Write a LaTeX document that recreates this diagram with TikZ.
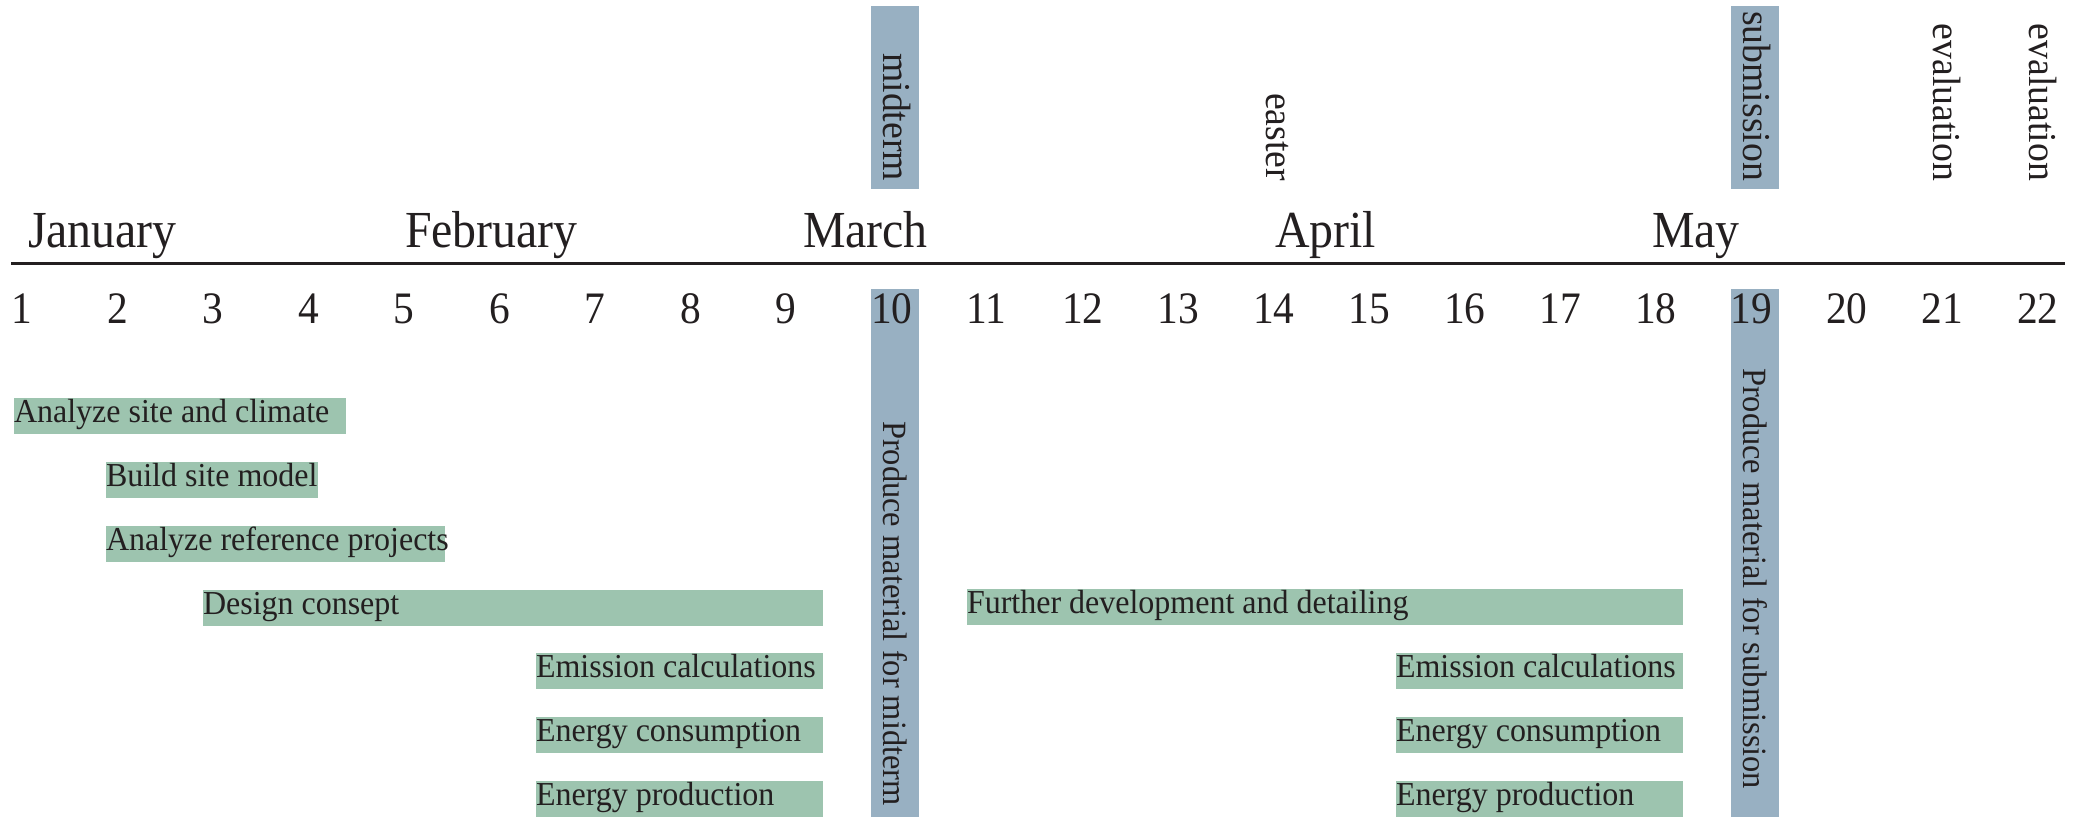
\documentclass[tikz,border=0pt]{standalone}
\usepackage{fontspec}
\setmainfont[FakeStretch=0.92]{Liberation Serif}
\newfontfamily\labelfont[FakeStretch=0.955]{Liberation Serif}
\definecolor{barGreen}{HTML}{9DC4AF}
\definecolor{hiBlue}{HTML}{98B0C2}
\definecolor{ink}{HTML}{231F20}
\begin{document}
\begin{tikzpicture}[x=1pt,y=-1pt,
  every node/.style={inner sep=0pt, outer sep=0pt, text=ink},
  monthlbl/.style={anchor=base west, font=\fontsize{52}{52}\selectfont},
  numlbl/.style={anchor=base west, font=\fontsize{45}{45}\selectfont},
  toplbl/.style={anchor=base east, rotate=-90, font=\labelfont\fontsize{39.5}{40}\selectfont},
  sidelbl/.style={anchor=base west, rotate=-90, font=\labelfont\fontsize{34}{34}\selectfont},
  tasklbl/.style={anchor=base west, font=\labelfont\fontsize{33.5}{33.5}\selectfont},
  taskbar/.style={fill=barGreen},
  hibar/.style={fill=hiBlue}]
\useasboundingbox (0,0) rectangle (2089,817);
\fill[white] (0,0) rectangle (2089,817);

% highlight columns (10 and 19)
\fill[hibar] (871,6) rectangle (918.5,189);
\fill[hibar] (1730.5,6) rectangle (1778.5,189);
\fill[hibar] (871,289) rectangle (918.5,817);
\fill[hibar] (1730.5,289) rectangle (1778.5,817);

% top labels
\node[toplbl] (mid) at (883,181) {midterm};
\node[toplbl] (eas) at (1266,181) {easter};
\node[toplbl] (sub) at (1743,181) {submission};
\node[toplbl] (ev1) at (1933.5,181) {evaluation};
\node[toplbl] (ev2) at (2029,181) {evaluation};

% months
\node[monthlbl] (jan) at (28,247) {January};
\node[monthlbl] (feb) at (405,247) {February};
\node[monthlbl] (mar) at (803,247) {March};
\node[monthlbl] (apr) at (1275,247) {April};
\node[monthlbl] (may) at (1652,247) {May};

% rule
\coordinate (ruleL) at (11,263.5);
\coordinate (ruleR) at (2065,263.5);
\draw[ink, line width=3pt] (ruleL) -- (ruleR);

% week numbers
\foreach \n in {1,...,22}
  \node[numlbl] (d\n) at ({11.5+95.5*(\n-1)},323) {\n};

% side labels
\node[sidelbl] (pm) at (883,421) {Produce material for midterm};
\node[sidelbl] (ps) at (1743,368) {Produce material for submission};

% tasks
\foreach \nm/\xa/\xb/\ty/\txt in {
 t1/14/346/398/Analyze site and climate,
 t2/106/318/462/Build site model,
 t3/106/445/526/Analyze reference projects,
 t4/203/823/590/Design consept,
 t5/536/823/653/Emission calculations,
 t6/536/823/717/Energy consumption,
 t7/536/823/781/Energy production,
 t8/967/1683/589/Further development and detailing,
 t9/1396/1683/653/Emission calculations,
 t10/1396/1683/717/Energy consumption,
 t11/1396/1683/781/Energy production}
{
 \fill[taskbar] (\xa,\ty) rectangle (\xb,\ty+36);
 \node[tasklbl] (\nm) at (\xa,\ty+24) {\txt};
}
\end{tikzpicture}
\end{document}
